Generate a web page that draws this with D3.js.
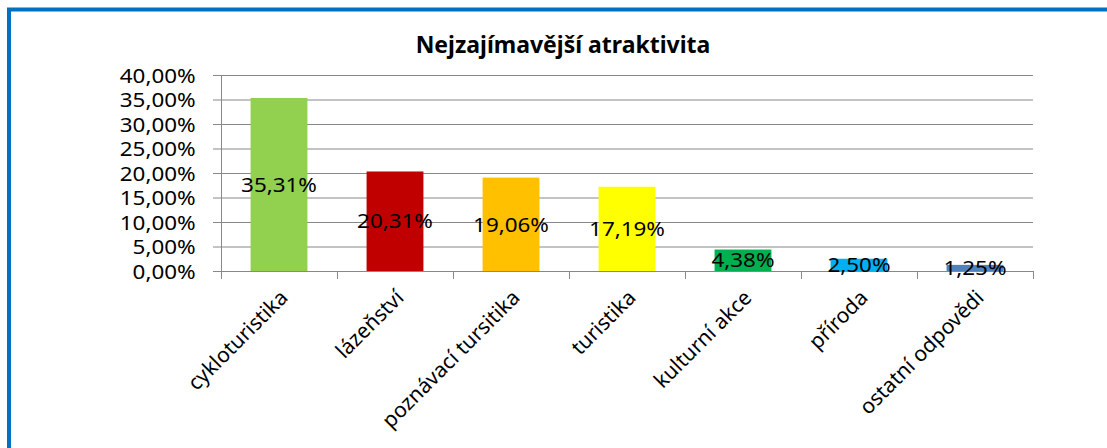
<!DOCTYPE html>
<html>
<head>
<meta charset="utf-8">
<script src="https://cdn.jsdelivr.net/npm/d3@7"></script>
<style>
  html, body { margin: 0; padding: 0; background: #fff; }
  svg text { font-family: "Noto Sans", "Open Sans", sans-serif; fill: #000; }
</style>
</head>
<body>
<script>
const categories = ["cykloturistika", "lázeňství", "poznávací tursitika", "turistika", "kulturní akce", "příroda", "ostatní odpovědi"];
const values = [35.31, 20.31, 19.06, 17.19, 4.38, 2.50, 1.25];
const barColors = ["#92D050", "#C00000", "#FFC000", "#FFFF00", "#00B050", "#00B0F0", "#4F81BD"];
const yTicks = [0, 5, 10, 15, 20, 25, 30, 35, 40];
const title = "Nejzajímavější atraktivita";

const w = 1107;
const h = 448;
const plotLeft = 221, plotRight = 1033, plotTop = 75, plotBottom = 271;
const pct = d => d3.format(".2f")(d).replace(".", ",") + "%";

const svg = d3.select("body")
              .append("svg")
              .attr("width", w)
              .attr("height", h);

// blue frame (runs off the right and bottom edges)
svg.append("rect")
  .attr("x", 9)
  .attr("y", 9.5)
  .attr("width", 1200)
  .attr("height", 600)
  .attr("fill", "none")
  .attr("stroke", "#0070C0")
  .attr("stroke-width", 4);

const xScale = d3.scaleBand()
                 .domain(categories)
                 .range([plotLeft, plotRight])
                 .paddingInner(0.51)
                 .paddingOuter(0.255);

const yScale = d3.scaleLinear()
                 .domain([0, 40])
                 .range([plotBottom, plotTop]);

// gridlines
svg.append("g")
  .attr("class", "grid")
  .attr("transform", "translate(" + plotLeft + ",0)")
  .call(d3.axisLeft(yScale).tickValues(yTicks).tickSize(-(plotRight - plotLeft)).tickFormat(""))
  .call(g => g.select(".domain").remove())
  .selectAll("line")
  .attr("stroke", "#888")
  .attr("stroke-width", 1);

// y axis
const yAxis = svg.append("g")
  .attr("id", "y-axis")
  .attr("transform", "translate(" + plotLeft + ",0)")
  .call(d3.axisLeft(yScale).tickValues(yTicks).tickSize(8).tickPadding(14).tickSizeOuter(0).tickFormat(pct));
yAxis.select(".domain").attr("stroke", "#888");
yAxis.selectAll("line").attr("stroke", "#888");
yAxis.selectAll("text")
  .attr("font-size", 19.5)
  .attr("fill", "#000")
  .attr("dy", "0.36em")
  .attr("transform", "scale(1.15,1)");

// bars
svg.selectAll("rect.bar")
  .data(values)
  .enter()
  .append("rect")
  .attr("class", "bar")
  .attr("x", (d, i) => xScale(categories[i]))
  .attr("y", d => yScale(d))
  .attr("width", xScale.bandwidth())
  .attr("height", d => plotBottom - yScale(d))
  .attr("fill", (d, i) => barColors[i]);

// x axis: boundary ticks
const tickScale = d3.scaleLinear().domain([0, categories.length]).range([plotLeft, plotRight]);
const xAxis = svg.append("g")
  .attr("id", "x-axis")
  .attr("transform", "translate(0," + plotBottom + ")")
  .call(d3.axisBottom(tickScale).tickValues(d3.range(categories.length + 1)).tickSize(8).tickSizeOuter(0).tickFormat(""));
xAxis.select(".domain").attr("stroke", "#888");
xAxis.selectAll("line").attr("stroke", "#888");

// category labels
svg.append("g")
  .attr("transform", "translate(0," + plotBottom + ")")
  .call(d3.axisBottom(xScale).tickSize(0).tickSizeOuter(0))
  .call(g => g.select(".domain").remove())
  .selectAll("text")
  .attr("font-size", 21)
  .attr("fill", "#000")
  .attr("text-anchor", "end")
  .attr("y", 0)
  .attr("dy", 0)
  .attr("transform", "translate(10,28) rotate(-45)");

// data labels
svg.selectAll("text.value")
  .data(values)
  .enter()
  .append("text")
  .attr("class", "value")
  .attr("transform", (d, i) => "translate(" + (xScale(categories[i]) + xScale.bandwidth() / 2) + "," + ((yScale(d) + plotBottom) / 2) + ") scale(1.12,1)")
  .attr("text-anchor", "middle")
  .attr("dy", "0.36em")
  .attr("font-size", 20)
  .text(d => pct(d));

svg.append("text")
  .attr("id", "title")
  .attr("x", 563)
  .attr("y", 53)
  .attr("text-anchor", "middle")
  .attr("font-size", 23)
  .attr("font-weight", "bold")
  .text(title);
</script>
</body>
</html>
